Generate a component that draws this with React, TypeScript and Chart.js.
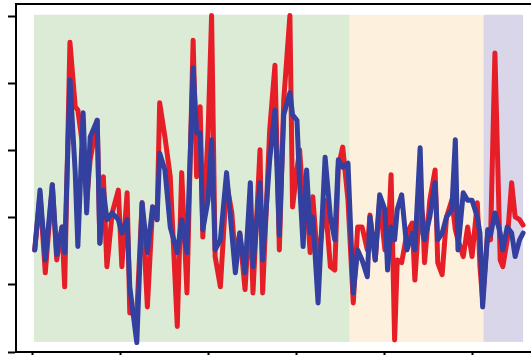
import React, { useEffect, useRef } from "react";
import { Chart, registerables } from "chart.js";

Chart.register(...registerables);

// x positions (time steps)
const xs = [
  2, 8, 14, 22, 27, 33, 36, 42, 48, 51, 57, 61, 65, 73, 76, 80, 84, 90, 97, 101,
  107, 110, 118, 124, 130, 136, 141, 144, 150, 156, 164, 169, 175, 182, 186, 190, 193, 199, 203, 207,
  213, 220, 226, 230, 235, 241, 247, 250, 258, 261, 269, 275, 280, 285, 292, 295, 300, 303, 307, 311,
  315, 318, 324, 332, 338, 343, 347, 352, 358, 364, 369, 374, 380, 383, 389, 394, 400, 403, 407, 411,
  414, 419, 425, 431, 434, 440, 443, 445, 451, 457, 460, 465, 470, 476, 480, 483, 489, 494, 499, 505,
  508, 511, 517, 520, 525, 531, 534, 539, 544, 548, 553, 557,
];

const redValues = [
  0.52, 1.34, 0.18, 1.49, 0.37, 0.86, -0.03, 3.61, 2.65, 2.6, 2.01, 1.26, 1.86, 2.45, 0.62, 1.61, 0.27, 1.07, 1.41, 0.27,
  1.37, -0.42, -0.42, 1.22, -0.33, 1.16, 0.97, 2.71, 2.2, 1.61, -0.62, 1.67, -0.12, 3.64, 1.61, 2.65, 0.71, 2.26, 4.01, 0.42,
  -0.03, 1.52, 1.07, 0.37, 0.77, -0.07, 1.26, -0.12, 2.01, -0.12, 2.3, 3.27, 0.52, 2.75, 4.01, 1.16, 1.71, 2.01, 1.26, 1.26,
  0.48, 1.31, 0.27, 1.26, 0.27, 0.22, 1.75, 2.05, 1.26, -0.27, 0.86, 0.86, 0.52, 1.04, 0.37, 1.26, 0.52, 0.52, 1.64, -0.82,
  0.37, 0.33, 0.77, 0.92, 0.07, 1.26, 1.01, 0.33, 1.26, 1.71, 0.33, 0.15, 1.01, 1.26, 0.82, 0.67, 0.42, 0.86, 0.42, 1.22,
  0.27, -0.22, 0.82, 0.67, 3.45, 0.37, 0.27, 0.67, 1.52, 1.01, 0.97, 0.89,
];

const blueValues = [
  0.52, 1.41, 0.37, 1.49, 0.45, 0.86, 0.48, 3.05, 1.67, 0.57, 2.56, 1.07, 2.2, 2.45, 0.62, 1.41, 0.97, 1.07, 0.97, 0.77,
  0.97, -0.03, -0.86, 1.22, 0.48, 1.16, 0.97, 1.96, 1.71, 0.86, 0.48, 0.97, 0.48, 3.23, 2.26, 2.26, 0.82, 1.26, 2.16, 0.52,
  0.67, 1.67, 0.77, 0.18, 0.77, 0.18, 1.52, 0.27, 1.52, 0.37, 1.86, 2.6, 0.74, 2.53, 2.86, 2.53, 2.45, 1.52, 0.57, 1.71,
  0.77, 1.01, -0.27, 1.9, 1.01, 0.67, 1.86, 1.75, 1.81, -0.12, 0.52, 0.37, 0.12, 1.01, 0.37, 1.34, 1.12, 0.22, 0.86, 0.67,
  1.12, 1.34, 0.52, 0.77, 0.52, 2.04, 0.77, 0.67, 1.01, 1.52, 0.67, 0.77, 1.01, 1.12, 2.16, 0.52, 1.37, 1.26, 1.26, 1.01,
  0.77, -0.33, 0.82, 0.74, 1.07, 0.77, 0.52, 0.86, 0.77, 0.42, 0.67, 0.77,
];

const xTicks = [0, 100, 200, 300, 400, 500];
const yTicks = [-1, 0, 1, 2, 3, 4];

// shaded periods (x edges) and their vertical span
const bandEdges = [1, 360, 512, 557];
const bandColors = ["#dcebd6", "#fdf0dc", "#dad6ea"];
const bandTop = 4.02;
const bandBottom = -0.85;

const bandsPlugin = {
  id: "bands",
  beforeDatasetsDraw(chart: any) {
    const { ctx, scales } = chart;
    const x = scales.x;
    const y = scales.y;
    ctx.save();
    for (let i = 0; i < bandColors.length; i++) {
      const x0 = x.getPixelForValue(bandEdges[i]);
      const x1 = x.getPixelForValue(bandEdges[i + 1]);
      const y0 = y.getPixelForValue(bandTop);
      const y1 = y.getPixelForValue(bandBottom);
      ctx.fillStyle = bandColors[i];
      ctx.fillRect(x0, y0, x1 - x0, y1 - y0);
    }
    ctx.restore();
  },
  afterDraw(chart: any) {
    const { ctx, chartArea } = chart;
    ctx.save();
    ctx.strokeStyle = "#000";
    ctx.lineWidth = 2;
    ctx.beginPath();
    ctx.moveTo(chartArea.left - 1, chartArea.top);
    ctx.lineTo(chart.width, chartArea.top);
    ctx.stroke();
    ctx.restore();
  },
};

export default function App() {
  const ref = useRef<HTMLCanvasElement | null>(null);

  useEffect(() => {
    document.body.style.margin = "0";
    const canvas = ref.current;
    if (!canvas) return;
    const chart = new Chart(canvas, {
      type: "line",
      data: {
        datasets: [
          {
            label: "red",
            data: xs.map((x, i) => ({ x, y: redValues[i] })),
            borderColor: "#e61e28",
            borderWidth: 5,
            pointRadius: 0,
            tension: 0,
            borderCapStyle: "round",
            borderJoinStyle: "round",
            fill: false,
            order: 2,
          },
          {
            label: "blue",
            data: xs.map((x, i) => ({ x, y: blueValues[i] })),
            borderColor: "#3340a0",
            borderWidth: 5,
            pointRadius: 0,
            tension: 0,
            borderCapStyle: "round",
            borderJoinStyle: "round",
            fill: false,
            order: 1,
          },
        ],
      },
      options: {
        responsive: false,
        animation: false,
        devicePixelRatio: 1,
        layout: { padding: { top: 4, left: 0, right: 0, bottom: 0 } },
        plugins: { legend: { display: false }, tooltip: { enabled: false } },
        scales: {
          x: {
            type: "linear",
            min: -19.3,
            max: 566,
            afterBuildTicks: (scale: any) => {
              scale.ticks = xTicks.map((v) => ({ value: v }));
            },
            afterFit: (scale: any) => {
              scale.height = 3;
            },
            ticks: { display: false },
            grid: {
              drawOnChartArea: false,
              drawTicks: true,
              tickLength: 6,
              tickWidth: 2,
              tickColor: "#000",
            },
            border: { display: true, color: "#000", width: 2 },
          },
          y: {
            type: "linear",
            min: -1,
            max: 4.18,
            afterBuildTicks: (scale: any) => {
              scale.ticks = yTicks.map((v) => ({ value: v }));
            },
            afterFit: (scale: any) => {
              scale.width = 16;
            },
            ticks: { display: false },
            grid: {
              drawOnChartArea: false,
              drawTicks: true,
              tickLength: 8,
              tickWidth: 2,
              tickColor: "#000",
            },
            border: { display: true, color: "#000", width: 2 },
          },
        },
      },
      plugins: [bandsPlugin],
    });
    return () => chart.destroy();
  }, []);

  return (
    <div style={{ width: 531, height: 355, overflow: "hidden" }}>
      <canvas ref={ref} width={531} height={355} style={{ display: "block" }} />
    </div>
  );
}
